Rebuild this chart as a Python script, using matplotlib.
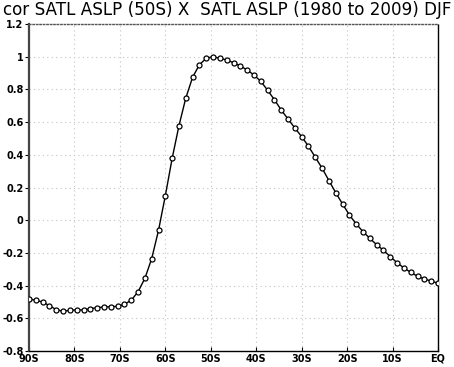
import numpy as np
import matplotlib
matplotlib.use('Agg')
from matplotlib import pyplot as plt

# latitude (1.5 deg grid, 90S -> EQ) and correlation values
lat = np.arange(-90, 0.01, 1.5)
cor = [-0.482, -0.490, -0.500, -0.523, -0.547, -0.557, -0.551, -0.549,
       -0.549, -0.541, -0.535, -0.531, -0.529, -0.527, -0.514, -0.490,
       -0.437, -0.356, -0.235, -0.062, 0.150, 0.378, 0.578, 0.747,
       0.874, 0.951, 0.990, 1.000, 0.990, 0.980, 0.963, 0.943,
       0.919, 0.888, 0.850, 0.795, 0.737, 0.674, 0.619, 0.564,
       0.511, 0.452, 0.385, 0.318, 0.242, 0.168, 0.099, 0.032,
       -0.023, -0.070, -0.111, -0.150, -0.184, -0.223, -0.260, -0.292,
       -0.319, -0.343, -0.360, -0.372, -0.386]

xticks = [-90, -80, -70, -60, -50, -40, -30, -20, -10, 0]
xlabels = ['90S', '80S', '70S', '60S', '50S', '40S', '30S', '20S', '10S', 'EQ']
yticks = [-0.8, -0.6, -0.4, -0.2, 0, 0.2, 0.4, 0.6, 0.8, 1, 1.2]
ylabels = ['-0.8', '-0.6', '-0.4', '-0.2', '0', '0.2', '0.4', '0.6', '0.8', '1', '1.2']
title = 'cor SATL ASLP (50S) X  SATL ASLP (1980 to 2009) DJF'

W, H = 454, 367
fig = plt.figure(figsize=(W / 100, H / 100), dpi=100)
ax = fig.add_axes([29 / W, (H - 351) / H, (438 - 29) / W, (351 - 24) / H])

ax.plot(lat, cor, color='black', lw=1.0, marker='o', ms=3.6,
        mfc='white', mec='black', mew=0.9, zorder=3)

ax.set_xlim(-90, 0)
ax.set_ylim(-0.8, 1.2)
ax.set_xticks(xticks)
ax.set_xticklabels(xlabels)
ax.set_yticks(yticks)
ax.set_yticklabels(ylabels)
ax.grid(True, color='#c4c4c4', linestyle=(0, (1, 3)), lw=0.8)
for lab in ax.get_xticklabels() + ax.get_yticklabels():
    lab.set_fontweight('bold')
ax.tick_params(axis='x', direction='in', length=3, labelsize=7, pad=2)
ax.tick_params(axis='y', direction='out', length=3, labelsize=7, pad=1)

ax.spines['left'].set_linewidth(1.6)
ax.spines['left'].set_color('#444444')
ax.spines['bottom'].set_linestyle((0, (3, 1)))
ax.spines['right'].set_linestyle((0, (3, 1)))
ax.spines['top'].set_linestyle((0, (1, 1.5)))
ax.spines['top'].set_color('#555555')
for s in ['bottom', 'right', 'top']:
    ax.spines[s].set_linewidth(1.0)

fig.text(3 / W, 1 - 15 / H, title, fontsize=12.1, family='DejaVu Sans',
         ha='left', va='baseline')

fig.savefig('out.png', dpi=100)
